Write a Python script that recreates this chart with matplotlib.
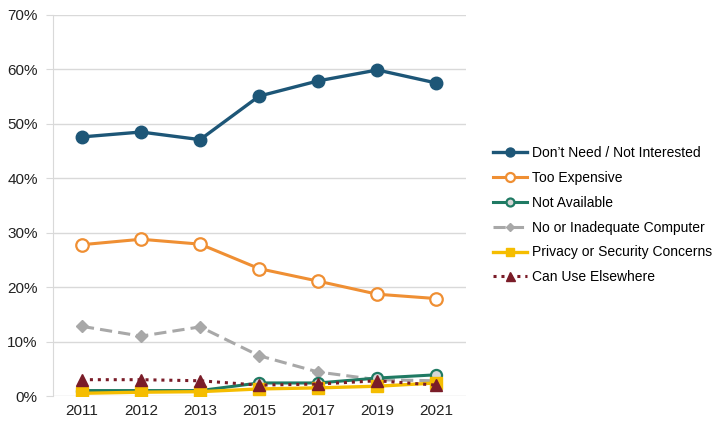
import numpy as np
import matplotlib.pyplot as plt

plt.rcParams['font.family'] = ['Liberation Sans', 'DejaVu Sans']

years = ['2011', '2012', '2013', '2015', '2017', '2019', '2021']

dont_need = [47.6, 48.5, 47.1, 55.1, 57.9, 59.9, 57.5]
too_expensive = [27.8, 28.8, 27.9, 23.4, 21.1, 18.7, 17.9]
not_available = [1.0, 1.0, 1.0, 2.4, 2.4, 3.3, 3.9]
no_computer = [12.8, 11.0, 12.7, 7.4, 4.4, 3.0, 2.8]
privacy = [0.5, 0.7, 0.8, 1.3, 1.5, 1.8, 2.4]
elsewhere = [3.0, 3.0, 2.8, 2.0, 2.2, 2.8, 2.0]

x = np.arange(len(years))

fig = plt.figure(figsize=(7.2, 4.32), dpi=100)
ax = fig.add_axes([0.0736, 0.0833, 0.5736, 0.882])

ax.plot(x, dont_need, color='#1d5677', lw=2.4, marker='o', ms=9,
        label="Don\u2019t Need / Not Interested", zorder=5)
ax.plot(x, too_expensive, color='#ef8f33', lw=2.2, marker='o', ms=9,
        mfc='white', mew=1.6, label='Too Expensive', zorder=5)
ax.plot(x, not_available, color='#1f7a63', lw=2.2, marker='o', ms=8,
        mfc='#d6d6d6', mew=1.6, label='Not Available', zorder=4)
ax.plot(x, no_computer, color='#a8a8a8', lw=2.2, ls=(0, (4, 2)), marker='D',
        ms=6, label='No or Inadequate Computer', zorder=3)
ax.plot(x, privacy, color='#f5bd00', lw=2.4, marker='s', ms=8,
        label='Privacy or Security Concerns', zorder=6)
ax.plot(x, elsewhere, color='#7a1c28', lw=2.2, ls=(0, (1, 1.6)), marker='^',
        ms=9, label='Can Use Elsewhere', zorder=7)

ax.set_xlim(-0.49, 6.5)
ax.set_ylim(0, 70)
ax.set_xticks(x)
ax.set_xticklabels(years)
ax.set_yticks(np.arange(0, 71, 10))
ax.set_yticklabels([f'{v}%' for v in range(0, 71, 10)])
ax.yaxis.grid(True, color='#d9d9d9', lw=1)
ax.set_axisbelow(True)
for s in ['top', 'right', 'bottom']:
    ax.spines[s].set_visible(False)
ax.spines['left'].set_color('#d9d9d9')
ax.tick_params(axis='y', length=5, color='#d9d9d9', labelsize=11,
               labelcolor='#222222', pad=6)
ax.tick_params(axis='x', length=0, labelsize=11, labelcolor='#222222', pad=6)

fig.legend(loc='center left', bbox_to_anchor=(0.667, 0.502), frameon=False,
           fontsize=10, handlelength=2.5, labelspacing=0.78, handletextpad=0.3,
           markerscale=0.72)

fig.savefig('out.png', dpi=100)
